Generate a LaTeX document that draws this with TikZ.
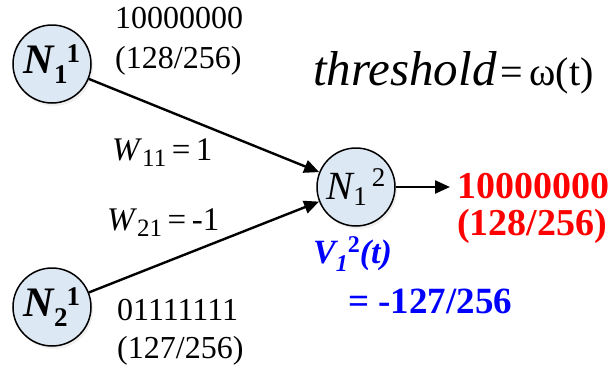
\documentclass[tikz,border=0pt]{standalone}
\usepackage{fontspec}
\setmainfont{Liberation Serif}
\usetikzlibrary{arrows.meta,shadows}
\definecolor{nodeblue}{RGB}{221,232,245}
\newcommand{\fsz}[1]{\fontsize{#1}{#1}\selectfont}
\newcommand{\NlabB}[2]{{\fsz{42}\bfseries\itshape N}\raisebox{-10pt}{\fsz{27}\bfseries #1}\kern-1pt\raisebox{11pt}{\fsz{27}\bfseries #2}}
\newcommand{\NlabR}[2]{{\fsz{40}\itshape N}\raisebox{-6pt}{\fsz{27}#1}\kern5pt\raisebox{13pt}{\fsz{27}#2}}
\tikzset{
  neuron/.style={circle, draw, line width=1.5pt, fill=nodeblue, minimum size=78pt, inner sep=0pt,
    drop shadow={opacity=0.12, shadow xshift=2pt, shadow yshift=-3pt}},
  conn/.style={line width=2.4pt, -{Triangle[length=15pt,width=13pt]}},
  txt/.style={anchor=base west, inner sep=0pt, font=\fsz{32}},
}
\begin{document}
\begin{tikzpicture}[x=1pt,y=-1pt]
\useasboundingbox (0,0) rectangle (610,370);
\node[neuron] (n11) at (52,64) {\NlabB{1}{1}};
\node[neuron] (n21) at (52,307) {\NlabB{2}{1}};
\node[neuron] (n12) at (356,187) {\NlabR{1}{2}};
\coordinate (out) at (450,187);
\draw[conn] (n11) -- (n12);
\draw[conn] (n21) -- (n12);
\draw[conn] (n12) -- (out);
\node[txt] (t1a) at (115,28) {10000000};
\node[txt] (t1b) at (115,68) {(128/256)};
\node[txt] (t2a) at (117,320) {01111111};
\node[txt] (t2b) at (117,358) {(127/256)};
\node[txt, font=\fsz{33}] (w11) at (112,160) {\textit{W}\raisebox{-6pt}{\fsz{25}11}\,=\,1};
\node[txt, font=\fsz{33}] (w21) at (107,230) {\textit{W}\raisebox{-6pt}{\fsz{25}21}\,=\,-1};
\node[txt, font=\fsz{49}\itshape] (th) at (313,85) {threshold};
\node[txt, font=\fsz{40}] (om) at (500,85) {=\,ω(t)};
\node[txt, font=\fsz{38}\bfseries, text=red] (r1) at (457,198) {10000000};
\node[txt, font=\fsz{38}\bfseries, text=red] (r2) at (457,235) {(128/256)};
\node[txt, text=blue] (v) at (313,263) {{\fsz{34}\bfseries\itshape V}\raisebox{-8pt}{\fsz{24}\bfseries\itshape 1}\raisebox{11pt}{\fsz{24}\bfseries 2}{\fsz{34}\bfseries\itshape (t)}};
\node[txt, font=\fsz{37}\bfseries, text=blue] (vv) at (348,313) {= -127/256};
\end{tikzpicture}
\end{document}
